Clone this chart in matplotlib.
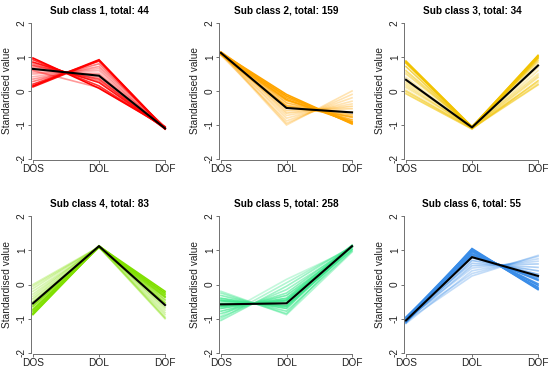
import numpy as np
import matplotlib
matplotlib.use('Agg')
import matplotlib.pyplot as plt

plt.rcParams['font.family'] = ['Liberation Sans', 'DejaVu Sans']

conditions = ['DOS', 'DOL', 'DOF']
titles = ['Sub class 1, total: 44', 'Sub class 2, total: 159', 'Sub class 3, total: 34',
          'Sub class 4, total: 83', 'Sub class 5, total: 258', 'Sub class 6, total: 55']
colours = ['#FF0000', '#FFA500', '#F2C300', '#80E000', '#3FE88E', '#3A8DE8']

# representative member profiles per sub class (DOS, DOL, DOF) + membership
c1_dos = [0.97, 0.92, 0.85, 0.80, 0.75, 0.70, 0.62, 0.55, 0.15, 0.20, 0.28, 0.35, 0.42, 0.50, 0.12, 0.60]
c1_dol = [0.08, 0.15, 0.25, 0.30, 0.35, 0.40, 0.48, 0.52, 0.92, 0.88, 0.80, 0.72, 0.66, 0.60, 0.90, 0.10]
c1_dof = [-1.05, -1.08, -1.10, -1.07, -1.12, -1.10, -1.09, -1.06, -1.10, -1.12, -1.08, -1.05, -1.10, -1.09, -1.11, -1.07]
c1_mem = [1.0, 0.8, 0.9, 0.5, 0.7, 0.4, 0.3, 0.3, 1.0, 0.8, 0.5, 0.4, 0.3, 0.3, 0.9, 0.4]

c2_dos = [1.12, 1.10, 1.15, 1.08, 1.13, 1.10, 1.06, 1.12, 1.14, 1.09, 1.11, 1.05, 1.13, 1.10, 1.12, 1.07]
c2_dol = [-0.10, -0.15, -0.20, -0.28, -0.35, -0.42, -0.50, -0.58, -0.65, -0.72, -0.80, -0.88, -0.95, -1.00, -0.25, -0.45]
c2_dof = [-0.97, -0.95, -0.90, -0.85, -0.78, -0.70, -0.62, -0.52, -0.45, -0.38, -0.30, -0.20, -0.10, 0.00, -0.92, -0.75]
c2_mem = [1.0, 1.0, 0.9, 0.8, 0.7, 0.6, 0.5, 0.4, 0.4, 0.3, 0.3, 0.3, 0.3, 0.3, 1.0, 0.7]

c3_dos = [0.88, 0.82, 0.72, 0.60, 0.50, 0.40, 0.30, 0.20, 0.10, 0.02, -0.08, 0.85, 0.15, 0.25, 0.55, -0.02]
c3_dol = [-1.05, -1.08, -1.10, -1.06, -1.04, -1.08, -1.07, -1.10, -1.05, -1.09, -1.12, -1.06, -1.08, -1.04, -1.07, -1.10]
c3_dof = [1.02, 0.98, 0.95, 0.90, 0.85, 0.78, 0.70, 0.60, 0.50, 0.40, 0.30, 1.05, 0.20, 0.25, 0.45, 0.18]
c3_mem = [1.0, 0.9, 0.7, 0.5, 0.4, 0.3, 0.3, 0.3, 0.3, 0.4, 0.6, 1.0, 0.3, 0.3, 0.3, 0.5]

c4_dos = [-0.88, -0.85, -0.80, -0.72, -0.65, -0.58, -0.50, -0.42, -0.35, -0.28, -0.20, -0.12, -0.05, 0.00, -0.75, -0.62]
c4_dol = [1.12, 1.10, 1.13, 1.08, 1.11, 1.12, 1.09, 1.10, 1.13, 1.10, 1.08, 1.11, 1.09, 1.10, 1.12, 1.10]
c4_dof = [-0.20, -0.25, -0.30, -0.38, -0.45, -0.52, -0.60, -0.68, -0.75, -0.82, -0.88, -0.95, -1.00, -0.98, -0.35, -0.55]
c4_mem = [1.0, 1.0, 0.9, 0.8, 0.7, 0.6, 0.5, 0.4, 0.3, 0.3, 0.3, 0.3, 0.3, 0.3, 0.9, 0.6]

c5_dos = [-1.05, -1.00, -0.92, -0.85, -0.78, -0.70, -0.62, -0.55, -0.48, -0.40, -0.32, -0.25, -0.20, -0.95, -0.65, -0.45]
c5_dol = [-0.05, 0.05, 0.15, -0.25, -0.32, -0.40, -0.48, -0.55, -0.62, -0.70, -0.78, -0.85, -0.88, -0.15, -0.45, -0.65]
c5_dof = [1.12, 1.10, 1.05, 1.13, 1.08, 1.15, 1.10, 1.12, 1.02, 1.10, 0.98, 1.12, 0.95, 1.08, 1.12, 1.10]
c5_mem = [0.5, 0.4, 0.3, 0.6, 0.7, 0.8, 0.9, 1.0, 0.9, 0.8, 0.6, 0.5, 0.4, 0.5, 0.9, 0.8]

c6_dos = [-1.05, -1.00, -1.12, -0.95, -1.08, -1.03, -1.10, -0.98, -1.06, -1.02, -1.14, -1.00, -1.07, -0.97, -1.04, -1.09]
c6_dol = [1.05, 1.00, 0.95, 0.90, 0.85, 0.78, 0.70, 0.62, 0.55, 0.48, 0.40, 0.32, 0.25, 1.02, 0.98, 0.88]
c6_dof = [-0.15, -0.08, 0.02, 0.12, 0.20, 0.30, 0.40, 0.50, 0.60, 0.68, 0.75, 0.82, 0.85, -0.12, -0.02, 0.15]
c6_mem = [1.0, 1.0, 0.9, 0.9, 0.8, 0.6, 0.5, 0.4, 0.4, 0.3, 0.3, 0.3, 0.3, 1.0, 1.0, 0.9]

mean_profiles = [[0.65, 0.45, -1.10], [1.12, -0.50, -0.63], [0.33, -1.07, 0.75],
                 [-0.55, 1.12, -0.60], [-0.58, -0.55, 1.12], [-1.05, 0.80, 0.25]]

members = [(c1_dos, c1_dol, c1_dof, c1_mem), (c2_dos, c2_dol, c2_dof, c2_mem),
           (c3_dos, c3_dol, c3_dof, c3_mem), (c4_dos, c4_dol, c4_dof, c4_mem),
           (c5_dos, c5_dol, c5_dof, c5_mem), (c6_dos, c6_dol, c6_dof, c6_mem)]

fig = plt.figure(figsize=(5.5, 3.7), dpi=100)
W, H = 550, 370
# axes boxes in pixels: left, top, width, height
col_left = [31, 219, 404]
col_w = [136, 135, 136]
row_top = [22, 215]
row_h = [138, 139]

x = np.arange(1, 4)
for i in range(6):
    r, c = divmod(i, 3)
    ax = fig.add_axes([col_left[c] / W, 1 - (row_top[r] + row_h[r]) / H,
                       col_w[c] / W, row_h[r] / H])
    dos, dol, dof, mem = members[i]
    order = np.argsort(mem)
    for k in order:
        ax.plot(x, [dos[k], dol[k], dof[k]], color=colours[i], alpha=mem[k],
                lw=1.2, solid_joinstyle='miter')
    ax.plot(x, mean_profiles[i], color='black', lw=1.5)

    ax.set_xlim(0.97, 3.03)
    ax.set_ylim(-2.03, 2.03)
    ax.spines['top'].set_visible(False)
    ax.spines['right'].set_visible(False)
    for s in ('left', 'bottom'):
        ax.spines[s].set_color('#707070')
        ax.spines[s].set_linewidth(0.7)
    ax.spines['left'].set_bounds(-2, 2)
    ax.spines['bottom'].set_bounds(1, 3)
    ax.set_xticks(x)
    ax.set_xticklabels(conditions)
    ax.set_yticks([-2, -1, 0, 1, 2])
    ax.set_yticklabels(['-2', '-1', '0', '1', '2'], rotation=90, va='center')
    ax.tick_params(length=2.2, width=0.7, color='#707070', pad=0.8,
                   labelsize=7.3, labelcolor='#222222')
    ax.set_ylabel('Standardised value', fontsize=7.3, color='#222222')
    ax.yaxis.set_label_coords(-0.14, 0.5)
    ax.set_title(titles[i], fontsize=7.2, fontweight='bold', pad=6)

fig.savefig('out.png', dpi=100)
